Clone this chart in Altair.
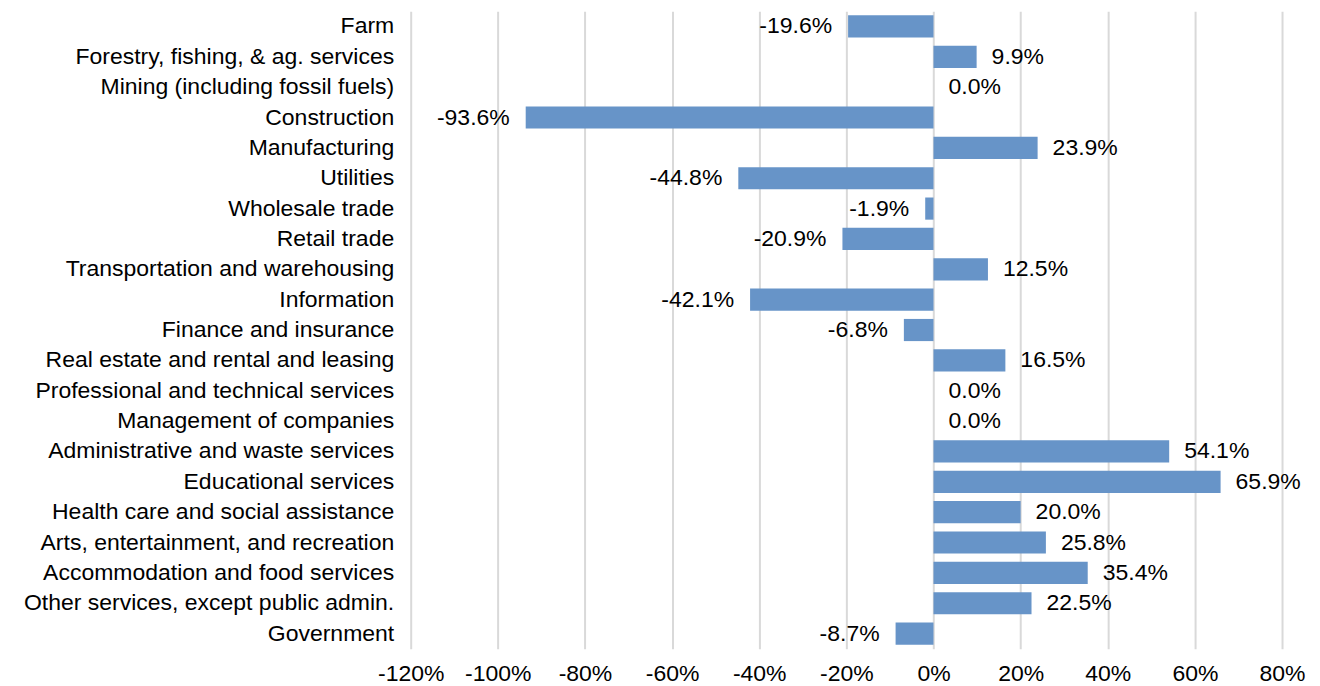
import altair as alt
import pandas as pd

categories = [
    "Farm",
    "Forestry, fishing, & ag. services",
    "Mining (including fossil fuels)",
    "Construction",
    "Manufacturing ",
    "Utilities",
    "Wholesale trade",
    "Retail trade",
    "Transportation and warehousing",
    "Information",
    "Finance and insurance",
    "Real estate and rental and leasing",
    "Professional and technical services",
    "Management of companies",
    "Administrative and waste services",
    "Educational services",
    "Health care and social assistance",
    "Arts, entertainment, and recreation",
    "Accommodation and food services",
    "Other services, except public admin.",
    "Government",
]
values = [-19.6, 9.9, 0.0, -93.6, 23.9, -44.8, -1.9, -20.9, 12.5, -42.1, -6.8,
          16.5, 0.0, 0.0, 54.1, 65.9, 20.0, 25.8, 35.4, 22.5, -8.7]
x_ticks = [-120, -100, -80, -60, -40, -20, 0, 20, 40, 60, 80]

df = pd.DataFrame({"cat": categories, "val": values})
df["label"] = [f"{v:.1f}%" for v in values]

FONT = "Liberation Sans"
FS = 23

y = alt.Y("cat:N", sort=categories, title=None,
          scale=alt.Scale(paddingInner=0.27, paddingOuter=0.135),
          axis=alt.Axis(domain=False, ticks=False, labelFontSize=FS, labelFont=FONT,
                        labelColor="#000000", labelPadding=17, labelLimit=600))
x = alt.X("val:Q", title=None,
          scale=alt.Scale(domain=[-120, 80], nice=False, zero=False),
          axis=alt.Axis(values=x_ticks, labelExpr="datum.value + '%'", domain=False, ticks=False,
                        labelFontSize=FS, labelFont=FONT, labelColor="#000000", labelPadding=14,
                        labelOverlap=False, labelBound=False, labelFlush=False,
                        grid=True, gridColor="#d9d9d9", gridWidth=2))

bars = alt.Chart(df).mark_bar(color="#6794C8").encode(x=x, y=y)

pos = alt.Chart(df).transform_filter("datum.val >= 0").mark_text(
    align="left", baseline="middle", dx=15, fontSize=FS, font=FONT, color="#000000"
).encode(x="val:Q", y=alt.Y("cat:N", sort=categories), text="label:N")

neg = alt.Chart(df).transform_filter("datum.val < 0").mark_text(
    align="right", baseline="middle", dx=-16, fontSize=FS, font=FONT, color="#000000"
).encode(x="val:Q", y=alt.Y("cat:N", sort=categories), text="label:N")

chart = alt.layer(bars, pos, neg).properties(
    width=872, height=638,
    autosize=alt.AutoSizeParams(type="none"),
    padding={"left": 403, "top": 3, "right": 30, "bottom": 40},
).configure_view(stroke=None)

chart.save("out.html", embed_options={"renderer": "svg", "actions": False})
